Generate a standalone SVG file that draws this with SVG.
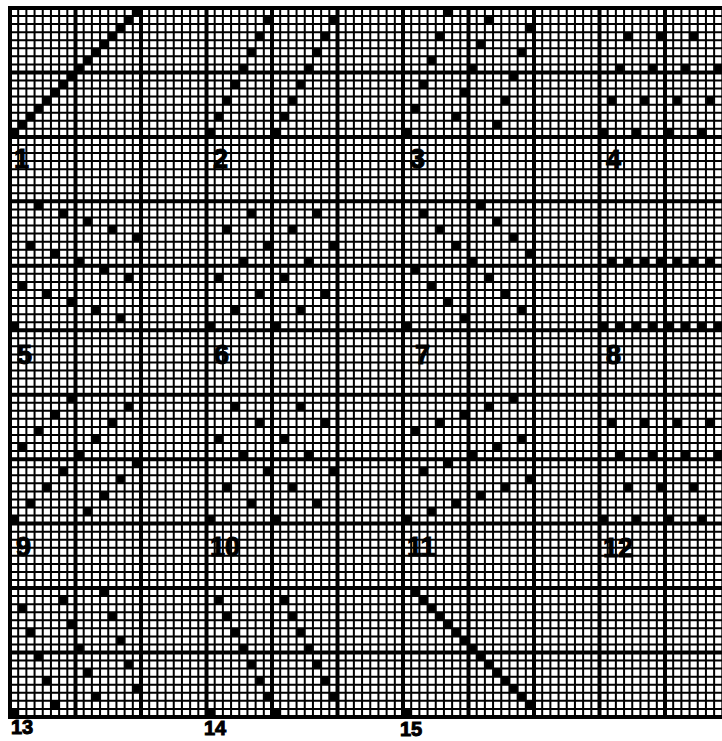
<svg xmlns="http://www.w3.org/2000/svg" width="722" height="741" viewBox="0 0 722 741">
<style>
.g{fill:none;stroke:#000}
.p{fill:#000}
.l{font-family:"Liberation Sans",Arial,sans-serif;font-weight:bold;font-size:27px;fill:#000;stroke:#000;stroke-width:1}
.s{font-size:20px}
</style>
<rect width="722" height="741" fill="#fff"/>
<g id="grid">
<line class="g" x1="9" y1="362.5" x2="722" y2="362.5" stroke-width="709" stroke-dasharray="2 6.1875"/>
<line class="g" x1="8" y1="362.5" x2="722" y2="362.5" stroke-width="709" stroke-dasharray="4 61.5"/>
<line class="g" x1="365" y1="7" x2="365" y2="718" stroke-width="714" stroke-dasharray="2 6.05625"/>
<line class="g" x1="365" y1="6" x2="365" y2="719" stroke-width="714" stroke-dasharray="4 60.45"/>
</g>
<g id="pattern1" class="p" transform="translate(10 137) scale(8.1875 -8.05625)"><path d="M0 0h1v1h-1zM1 1h1v1h-1zM2 2h1v1h-1zM3 3h1v1h-1zM4 4h1v1h-1zM5 5h1v1h-1zM6 6h1v1h-1zM7 7h1v1h-1zM8 8h1v1h-1zM9 9h1v1h-1zM10 10h1v1h-1zM11 11h1v1h-1zM12 12h1v1h-1zM13 13h1v1h-1zM14 14h1v1h-1zM15 15h1v1h-1z"/></g>
<g id="pattern2" class="p" transform="translate(206.5 137) scale(8.1875 -8.05625)"><path d="M0 0h1v1h-1zM1 2h1v1h-1zM2 4h1v1h-1zM3 6h1v1h-1zM4 8h1v1h-1zM5 10h1v1h-1zM6 12h1v1h-1zM7 14h1v1h-1zM8 0h1v1h-1zM9 2h1v1h-1zM10 4h1v1h-1zM11 6h1v1h-1zM12 8h1v1h-1zM13 10h1v1h-1zM14 12h1v1h-1zM15 14h1v1h-1z"/></g>
<g id="pattern3" class="p" transform="translate(403 137) scale(8.1875 -8.05625)"><path d="M0 0h1v1h-1zM1 3h1v1h-1zM2 6h1v1h-1zM3 9h1v1h-1zM4 12h1v1h-1zM5 15h1v1h-1zM6 2h1v1h-1zM7 5h1v1h-1zM8 8h1v1h-1zM9 11h1v1h-1zM10 14h1v1h-1zM11 1h1v1h-1zM12 4h1v1h-1zM13 7h1v1h-1zM14 10h1v1h-1zM15 13h1v1h-1z"/></g>
<g id="pattern4" class="p" transform="translate(599.5 137) scale(8.1875 -8.05625)"><path d="M0 0h1v1h-1zM1 4h1v1h-1zM2 8h1v1h-1zM3 12h1v1h-1zM4 0h1v1h-1zM5 4h1v1h-1zM6 8h1v1h-1zM7 12h1v1h-1zM8 0h1v1h-1zM9 4h1v1h-1zM10 8h1v1h-1zM11 12h1v1h-1zM12 0h1v1h-1zM13 4h1v1h-1zM14 8h1v1h-1zM15 12h1v1h-1z"/></g>
<g id="pattern5" class="p" transform="translate(10 330.35) scale(8.1875 -8.05625)"><path d="M0 0h1v1h-1zM1 5h1v1h-1zM2 10h1v1h-1zM3 15h1v1h-1zM4 4h1v1h-1zM5 9h1v1h-1zM6 14h1v1h-1zM7 3h1v1h-1zM8 8h1v1h-1zM9 13h1v1h-1zM10 2h1v1h-1zM11 7h1v1h-1zM12 12h1v1h-1zM13 1h1v1h-1zM14 6h1v1h-1zM15 11h1v1h-1z"/></g>
<g id="pattern6" class="p" transform="translate(206.5 330.35) scale(8.1875 -8.05625)"><path d="M0 0h1v1h-1zM1 6h1v1h-1zM2 12h1v1h-1zM3 2h1v1h-1zM4 8h1v1h-1zM5 14h1v1h-1zM6 4h1v1h-1zM7 10h1v1h-1zM8 0h1v1h-1zM9 6h1v1h-1zM10 12h1v1h-1zM11 2h1v1h-1zM12 8h1v1h-1zM13 14h1v1h-1zM14 4h1v1h-1zM15 10h1v1h-1z"/></g>
<g id="pattern7" class="p" transform="translate(403 330.35) scale(8.1875 -8.05625)"><path d="M0 0h1v1h-1zM1 7h1v1h-1zM2 14h1v1h-1zM3 5h1v1h-1zM4 12h1v1h-1zM5 3h1v1h-1zM6 10h1v1h-1zM7 1h1v1h-1zM8 8h1v1h-1zM9 15h1v1h-1zM10 6h1v1h-1zM11 13h1v1h-1zM12 4h1v1h-1zM13 11h1v1h-1zM14 2h1v1h-1zM15 9h1v1h-1z"/></g>
<g id="pattern8" class="p" transform="translate(599.5 330.35) scale(8.1875 -8.05625)"><path d="M0 0h1v1h-1zM1 8h1v1h-1zM2 0h1v1h-1zM3 8h1v1h-1zM4 0h1v1h-1zM5 8h1v1h-1zM6 0h1v1h-1zM7 8h1v1h-1zM8 0h1v1h-1zM9 8h1v1h-1zM10 0h1v1h-1zM11 8h1v1h-1zM12 0h1v1h-1zM13 8h1v1h-1zM14 0h1v1h-1zM15 8h1v1h-1z"/></g>
<g id="pattern9" class="p" transform="translate(10 523.7) scale(8.1875 -8.05625)"><path d="M0 0h1v1h-1zM1 9h1v1h-1zM2 2h1v1h-1zM3 11h1v1h-1zM4 4h1v1h-1zM5 13h1v1h-1zM6 6h1v1h-1zM7 15h1v1h-1zM8 8h1v1h-1zM9 1h1v1h-1zM10 10h1v1h-1zM11 3h1v1h-1zM12 12h1v1h-1zM13 5h1v1h-1zM14 14h1v1h-1zM15 7h1v1h-1z"/></g>
<g id="pattern10" class="p" transform="translate(206.5 523.7) scale(8.1875 -8.05625)"><path d="M0 0h1v1h-1zM1 10h1v1h-1zM2 4h1v1h-1zM3 14h1v1h-1zM4 8h1v1h-1zM5 2h1v1h-1zM6 12h1v1h-1zM7 6h1v1h-1zM8 0h1v1h-1zM9 10h1v1h-1zM10 4h1v1h-1zM11 14h1v1h-1zM12 8h1v1h-1zM13 2h1v1h-1zM14 12h1v1h-1zM15 6h1v1h-1z"/></g>
<g id="pattern11" class="p" transform="translate(403 523.7) scale(8.1875 -8.05625)"><path d="M0 0h1v1h-1zM1 11h1v1h-1zM2 6h1v1h-1zM3 1h1v1h-1zM4 12h1v1h-1zM5 7h1v1h-1zM6 2h1v1h-1zM7 13h1v1h-1zM8 8h1v1h-1zM9 3h1v1h-1zM10 14h1v1h-1zM11 9h1v1h-1zM12 4h1v1h-1zM13 15h1v1h-1zM14 10h1v1h-1zM15 5h1v1h-1z"/></g>
<g id="pattern12" class="p" transform="translate(599.5 523.7) scale(8.1875 -8.05625)"><path d="M0 0h1v1h-1zM1 12h1v1h-1zM2 8h1v1h-1zM3 4h1v1h-1zM4 0h1v1h-1zM5 12h1v1h-1zM6 8h1v1h-1zM7 4h1v1h-1zM8 0h1v1h-1zM9 12h1v1h-1zM10 8h1v1h-1zM11 4h1v1h-1zM12 0h1v1h-1zM13 12h1v1h-1zM14 8h1v1h-1zM15 4h1v1h-1z"/></g>
<g id="pattern13" class="p" transform="translate(10 717.05) scale(8.1875 -8.05625)"><path d="M0 0h1v1h-1zM1 13h1v1h-1zM2 10h1v1h-1zM3 7h1v1h-1zM4 4h1v1h-1zM5 1h1v1h-1zM6 14h1v1h-1zM7 11h1v1h-1zM8 8h1v1h-1zM9 5h1v1h-1zM10 2h1v1h-1zM11 15h1v1h-1zM12 12h1v1h-1zM13 9h1v1h-1zM14 6h1v1h-1zM15 3h1v1h-1z"/></g>
<g id="pattern14" class="p" transform="translate(206.5 717.05) scale(8.1875 -8.05625)"><path d="M0 0h1v1h-1zM1 14h1v1h-1zM2 12h1v1h-1zM3 10h1v1h-1zM4 8h1v1h-1zM5 6h1v1h-1zM6 4h1v1h-1zM7 2h1v1h-1zM8 0h1v1h-1zM9 14h1v1h-1zM10 12h1v1h-1zM11 10h1v1h-1zM12 8h1v1h-1zM13 6h1v1h-1zM14 4h1v1h-1zM15 2h1v1h-1z"/></g>
<g id="pattern15" class="p" transform="translate(403 717.05) scale(8.1875 -8.05625)"><path d="M0 0h1v1h-1zM1 15h1v1h-1zM2 14h1v1h-1zM3 13h1v1h-1zM4 12h1v1h-1zM5 11h1v1h-1zM6 10h1v1h-1zM7 9h1v1h-1zM8 8h1v1h-1zM9 7h1v1h-1zM10 6h1v1h-1zM11 5h1v1h-1zM12 4h1v1h-1zM13 3h1v1h-1zM14 2h1v1h-1zM15 1h1v1h-1z"/></g>
<g id="labels" class="l">
<text x="14" y="168">1</text>
<text x="213" y="168">2</text>
<text x="410" y="168">3</text>
<text x="606" y="169">4</text>
<text x="17" y="364">5</text>
<text x="214" y="364">6</text>
<text x="415" y="364">7</text>
<text x="606" y="364">8</text>
<text x="16" y="556">9</text>
<text x="210" y="556">10</text>
<text x="407" y="556">11</text>
<text x="603" y="557">12</text>
<text class="s" x="11" y="734">13</text>
<text class="s" x="204" y="735">14</text>
<text class="s" x="400" y="736">15</text>
</g>
</svg>
